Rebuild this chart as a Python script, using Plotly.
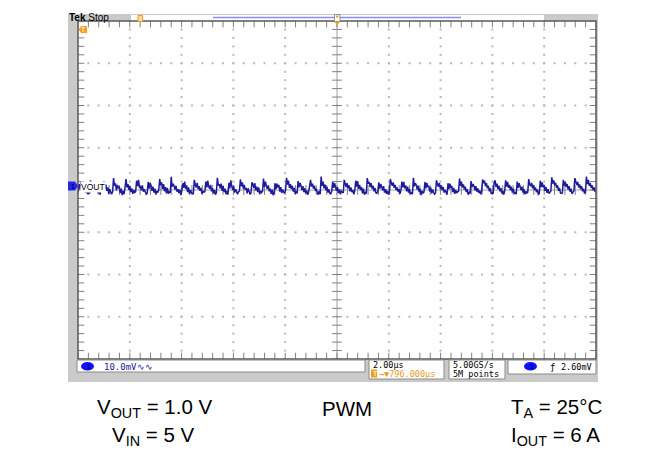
import plotly.graph_objects as go

# ---------------- data ----------------
# Output ripple, mV relative to the channel-1 reference (10 mV/div), one list per switching cycle
ripple_cycles_mv = [
    [-0.6, 1.4, 0.2, 1.9, 0.6, 1.2, -0.3, 0.9, -0.6, 0.4, -1.0, 0.1],
    [-0.9, 2.3, 0.7, 1.5, 1.0, 0.1, 1.1, -0.4, 0.5, -0.8, -0.1, -1.1],
    [0.2, 1.8, 0.4, 2.1, 0.3, 1.3, -0.2, 0.6, -0.9, 0.2, -0.5, -1.0],
    [-0.4, 2.8, 1.0, 1.6, -0.1, 1.2, 0.4, 0.8, -0.7, 0.3, -1.2, -0.2],
    [-1.0, 1.5, 2.6, 0.6, 1.4, 0.0, 0.9, -0.5, 0.4, -0.9, 0.0, -0.7],
    [-0.3, 2.2, 0.9, 2.4, 0.5, 1.0, -0.1, 1.1, -0.4, 0.2, -0.8, -1.0],
    [-0.8, 1.9, 0.3, 1.7, 1.1, -0.2, 0.8, -0.6, 0.3, -1.1, -0.2, -0.6],
    [0.0, 2.6, 1.2, 1.8, 0.2, 1.4, -0.3, 0.7, -0.8, 0.5, -0.9, -0.3],
    [-0.7, 3.1, 0.8, 1.5, 0.9, 0.1, 1.0, -0.4, 0.2, -0.7, 0.1, -1.2],
    [-0.2, 1.6, 0.5, 2.0, 0.3, 1.1, -0.5, 0.6, -1.0, 0.0, -0.6, -0.9],
    [-0.9, 2.4, 1.3, 0.6, 1.7, 0.2, 0.9, -0.2, 0.5, -0.9, -0.3, -0.5],
    [-0.4, 2.0, 0.6, 2.2, 0.8, 0.3, 1.2, -0.3, 0.4, -0.8, 0.0, -1.1],
    [-0.6, 2.9, 1.1, 1.4, 0.4, 1.5, -0.2, 0.9, -0.5, 0.3, -1.0, -0.2],
    [-1.1, 1.7, 0.4, 2.3, 0.9, 0.0, 1.0, -0.6, 0.2, -0.4, -1.0, -0.4],
    [-0.2, 2.5, 0.9, 1.8, 0.3, 1.2, 0.1, 0.5, -0.8, 0.4, -0.7, -1.0],
    [-0.7, 1.8, 1.4, 0.5, 1.6, -0.1, 0.8, -0.5, 0.6, -1.0, -0.2, -0.6],
    [-0.3, 2.7, 0.7, 2.0, 1.0, 0.2, 1.1, -0.3, 0.3, -0.9, 0.1, -1.2],
    [-0.9, 1.6, 0.2, 1.5, 0.6, 1.2, -0.4, 0.7, -0.7, 0.1, -0.5, -0.8],
    [-0.1, 2.9, 1.3, 2.2, 0.5, 1.4, 0.2, 1.0, -0.4, 0.5, -0.9, -0.3],
    [-0.8, 2.1, 0.6, 1.7, 1.1, 0.0, 0.9, -0.5, 0.4, -0.8, -0.1, -1.1],
    [-0.5, 1.7, 2.4, 0.8, 1.5, 0.3, 1.0, -0.2, 0.3, -0.6, -1.1, -0.2],
    [-1.0, 3.2, 1.0, 2.0, 0.4, 1.3, -0.1, 0.8, -0.6, 0.2, -0.8, -0.9],
    [-0.3, 1.9, 0.5, 1.6, 0.9, -0.2, 0.7, -0.7, 0.1, -1.0, -0.3, -0.6],
    [-0.7, 2.4, 1.2, 0.7, 1.6, 0.4, 1.1, -0.3, 0.6, -0.5, 0.0, -1.0],
    [-0.2, 2.2, 0.8, 2.1, 0.3, 1.2, 0.0, 0.7, -0.8, 0.3, -1.1, -0.4],
    [-0.9, 2.8, 1.5, 1.9, 0.7, 1.6, 0.3, 1.0, -0.3, 0.5, -0.7, -0.8],
    [-0.4, 1.8, 0.3, 1.4, 0.8, -0.1, 0.9, -0.6, 0.2, -0.9, -0.2, -1.1],
    [-0.8, 2.6, 1.7, 1.0, 1.8, 0.5, 1.2, 0.0, 0.6, -0.4, 0.2, -0.9],
    [-0.1, 2.0, 0.6, 1.9, 0.4, 1.1, -0.3, 0.8, -0.6, 0.2, -1.0, -0.5],
    [-1.0, 2.9, 0.9, 1.6, 1.2, 0.1, 1.0, -0.5, 0.3, -1.2, -0.2, -0.7],
    [-0.5, 1.9, 0.4, 1.7, 0.7, 1.0, -0.4, 0.6, -0.8, 0.1, -0.6, -1.0],
    [-0.7, 2.3, 1.4, 0.8, 1.7, 0.3, 1.1, -0.1, 0.7, -0.6, 0.0, -0.9],
    [-1.1, 1.6, 0.2, 1.5, 0.5, 0.9, -0.5, 0.5, -0.9, 0.0, -0.7, -0.4],
    [-0.3, 2.7, 1.0, 2.0, 0.6, 1.3, 0.1, 0.8, -0.5, 0.2, -1.1, -0.6],
    [-0.8, 2.1, 0.7, 1.4, 1.0, -0.1, 0.9, -0.4, 0.4, -0.7, -0.1, -1.0],
    [-0.4, 2.5, 1.6, 2.2, 0.9, 1.6, 0.4, 1.0, -0.3, 0.4, -0.9, -0.5],
    [-0.9, 1.8, 2.3, 0.7, 1.5, 0.2, 1.0, -0.3, 0.5, -0.8, -0.2, -1.1],
    [-0.2, 2.3, 0.8, 1.9, 0.5, 1.2, -0.1, 0.8, -0.6, 0.3, -0.9, -0.5],
    [-1.0, 2.0, 0.5, 1.6, 0.9, 0.0, 0.8, -0.6, 0.2, -1.0, -0.3, -0.7],
    [-0.5, 2.6, 1.3, 0.9, 1.7, 0.4, 1.2, 0.0, 0.6, -0.5, 0.1, -1.0],
    [-0.8, 2.2, 0.7, 1.8, 0.6, 1.2, -0.2, 0.7, -0.7, 0.2, -0.8, -0.4],
    [-0.3, 3.0, 1.5, 2.3, 1.1, 1.7, 0.5, 1.1, -0.2, 0.5, -0.7, -0.8],
    [-0.7, 2.4, 1.0, 2.0, 0.7, 1.4, 0.1, 0.9, -0.4, 0.3, -0.9, -0.5],
    [-0.2, 2.8, 1.7, 1.2, 1.9, 0.6, 1.3, 0.2, 0.9, -0.3, 0.3, -0.7],
    [-0.6, 3.2, 1.4, 2.4, 1.0, 1.6, 0.5, 1.1, 0.0, 0.6, -0.4, -0.1],
]

time_range_us = [-10.0, 10.0]      # 2.00 µs/div, 10 divisions
volt_range_mv = [-40.0, 40.0]      # 10.0 mV/div, 8 divisions

scope_status = {
    "ch1_scale": "10.0mV\u223f\u223f",
    "timebase": "2.00\u00b5s",
    "delay": "\u2192\u25bc796.000\u00b5s",
    "sample_rate": "5.00GS/s",
    "record": "5M points",
    "trigger_level": "2.60mV",
}
captions = {
    "vout": "V<sub>OUT</sub> = 1.0 V",
    "vin": "V<sub>IN</sub> = 5 V",
    "mode": "PWM",
    "ta": "T<sub>A</sub> = 25\u00b0C",
    "iout": "I<sub>OUT</sub> = 6 A",
}

# ---------------- geometry (screen pixels; page body has an 8 px margin) ----------------
PAGE_W, PAGE_H = 663, 467
BODY = 8
FIG_W, FIG_H = PAGE_W - BODY, PAGE_H - BODY
L, R, T, B = 78, 596, 21, 359   # plot area in screen pixels


def fx(px):
    return (px - L) / (R - L)


def fy(py):
    return (B - py) / (B - T)


vout_mv = [v for cyc in ripple_cycles_mv for v in cyc]
n = len(vout_mv)
t_us = [time_range_us[0] + (time_range_us[1] - time_range_us[0]) * i / (n - 1) for i in range(n)]

major_x = [time_range_us[0] + 2.0 * i for i in range(11)]
minor_x = [time_range_us[0] + 0.4 * i for i in range(51)]
major_y = [volt_range_mv[0] + 10.0 * i for i in range(9)]
minor_y = [volt_range_mv[0] + 2.0 * i for i in range(41)]

fig = go.Figure()

# grid dots
gx, gy = [], []
for xv in major_x[1:-1]:
    if abs(xv) < 1e-9:
        continue
    for yv in minor_y:
        gx.append(xv); gy.append(yv)
for yv in major_y[1:-1]:
    if abs(yv) < 1e-9:
        continue
    for xv in minor_x:
        gx.append(xv); gy.append(yv)
fig.add_trace(go.Scatter(x=gx, y=gy, mode="markers", hoverinfo="skip",
                         marker=dict(symbol="square", size=2, color="#b8b8b8", line=dict(width=0))))

# centre crosshair ticks
fig.add_trace(go.Scatter(x=[0.0] * len(minor_y), y=minor_y, mode="markers", hoverinfo="skip",
                         marker=dict(symbol="line-ew", size=7, line=dict(width=1, color="#808080"))))
fig.add_trace(go.Scatter(x=minor_x, y=[0.0] * len(minor_x), mode="markers", hoverinfo="skip",
                         marker=dict(symbol="line-ns", size=7, line=dict(width=1, color="#808080"))))
# edge ticks (half clipped by plot area)
fig.add_trace(go.Scatter(x=[time_range_us[0]] * len(minor_y) + [time_range_us[1]] * len(minor_y),
                         y=minor_y + minor_y, mode="markers", hoverinfo="skip",
                         marker=dict(symbol="line-ew", size=9, line=dict(width=1, color="#808080"))))
fig.add_trace(go.Scatter(x=minor_x + minor_x,
                         y=[volt_range_mv[0]] * len(minor_x) + [volt_range_mv[1]] * len(minor_x),
                         mode="markers", hoverinfo="skip",
                         marker=dict(symbol="line-ns", size=9, line=dict(width=1, color="#808080"))))

# waveform
fig.add_trace(go.Scatter(x=t_us, y=vout_mv, mode="lines", hoverinfo="skip",
                         line=dict(color="#1c1c9c", width=1.5)))

shapes = []
# gray scope frame
shapes.append(dict(type="rect", xref="paper", yref="paper", x0=fx(68), x1=fx(598), y0=fy(14), y1=fy(382),
                   fillcolor="#cacaca", line=dict(width=0), layer="below"))
# header white strip
shapes.append(dict(type="rect", xref="paper", yref="paper", x0=fx(131), x1=fx(544), y0=fy(15), y1=fy(21),
                   fillcolor="white", line=dict(width=0), layer="below"))
# plot area white
shapes.append(dict(type="rect", xref="paper", yref="paper", x0=0, x1=1, y0=0, y1=1,
                   fillcolor="white", line=dict(width=0), layer="below"))
# centre lines
shapes.append(dict(type="line", xref="x", yref="paper", x0=0, x1=0, y0=0, y1=1,
                   line=dict(color="#a0a0a0", width=1), layer="below"))
shapes.append(dict(type="line", xref="paper", yref="y", x0=0, x1=1, y0=0, y1=0,
                   line=dict(color="#a0a0a0", width=1), layer="below"))
# plot border
shapes.append(dict(type="rect", xref="paper", yref="paper", x0=0, x1=1, y0=0, y1=1,
                   line=dict(color="#5a5a5a", width=1.5)))
# header record bar
shapes.append(dict(type="line", xref="paper", yref="paper", x0=fx(213), x1=fx(461), y0=fy(17.5), y1=fy(17.5),
                   line=dict(color="#8c8cf0", width=1.5)))
shapes.append(dict(type="rect", xref="paper", yref="paper", x0=fx(334.5), x1=fx(340), y0=fy(14.5), y1=fy(21.5),
                   fillcolor="white", line=dict(color="#909090", width=1)))
shapes.append(dict(type="rect", xref="paper", yref="paper", x0=fx(336), x1=fx(338.5), y0=fy(15.5), y1=fy(17.5),
                   fillcolor="#f0a020", line=dict(width=0)))
# header trigger marker
shapes.append(dict(type="rect", xref="paper", yref="paper", x0=fx(138), x1=fx(142.5), y0=fy(15.5), y1=fy(21.5),
                   fillcolor="#fbd9a0", line=dict(color="#f0a020", width=1)))
# trigger position triangle at top of graticule
shapes.append(dict(type="path", xref="paper", yref="paper",
                   path=f"M {fx(334)} {fy(21.5)} L {fx(340.5)} {fy(21.5)} L {fx(337.2)} {fy(25)} Z",
                   fillcolor="#f0a020", line=dict(width=0)))
# trigger level marker (left top)
shapes.append(dict(type="path", xref="paper", yref="paper",
                   path=(f"M {fx(78.5)} {fy(29.5)} L {fx(81)} {fy(26)} L {fx(87)} {fy(26)} "
                         f"L {fx(87)} {fy(33)} L {fx(81)} {fy(33)} Z"),
                   fillcolor="#f0a020", line=dict(width=0)))
# channel 1 ground marker
shapes.append(dict(type="path", xref="paper", yref="paper",
                   path=(f"M {fx(68)} {fy(181.5)} L {fx(75)} {fy(181.5)} L {fx(78)} {fy(186)} "
                         f"L {fx(75)} {fy(190.5)} L {fx(68)} {fy(190.5)} Z"),
                   fillcolor="#2424f0", line=dict(width=0)))
# status boxes
for x0, x1, y0, y1 in [(77, 365, 360, 372), (369, 444, 360, 379), (449, 505, 360, 379), (508, 596, 360, 374)]:
    shapes.append(dict(type="rect", xref="paper", yref="paper", x0=fx(x0), x1=fx(x1), y0=fy(y0), y1=fy(y1),
                       fillcolor="white", line=dict(color="#8a8a8a", width=1)))
# blue channel ovals
for x0, x1, y0, y1 in [(81, 94, 362, 370.5), (524, 537, 362, 370.5)]:
    shapes.append(dict(type="circle", xref="paper", yref="paper", x0=fx(x0), x1=fx(x1), y0=fy(y0), y1=fy(y1),
                       fillcolor="#1010ff", line=dict(width=0)))
# delay "T" icon
shapes.append(dict(type="rect", xref="paper", yref="paper", x0=fx(371), x1=fx(377), y0=fy(369.5), y1=fy(377.5),
                   fillcolor="#f0a020", line=dict(width=0)))

mono = "DejaVu Sans Mono"
ann = []


def text(px, py, s, size=9, color="black", xanchor="left", family=mono, bg=None):
    d = dict(xref="paper", yref="paper", x=fx(px), y=fy(py), text=s, showarrow=False,
             xanchor=xanchor, yanchor="middle", font=dict(family=family, size=size, color=color),
             borderpad=0)
    if bg:
        d["bgcolor"] = bg
    ann.append(d)


text(68, 17.5, "<b>Tek</b> Stop", size=10, family="Liberation Sans")
text(80, 29.6, "T", size=7, color="white", family="Liberation Sans")
text(70, 186.3, "1", size=7.5, color="black", family="Liberation Sans")
text(80, 186.5, "VOUT", size=8.5, family="Liberation Sans", bg="white")
text(85.5, 366.5, "1", size=7, color="black", family="Liberation Sans")
text(103, 366.5, scope_status["ch1_scale"], size=9, color="#1a1a9a")
text(372, 365, scope_status["timebase"], size=8.5)
text(372.3, 373.6, "T", size=7, color="white", family="Liberation Sans")
text(378, 374, scope_status["delay"], size=8.5, color="#e89a20")
text(452, 365, scope_status["sample_rate"], size=8.5)
text(452, 374, scope_status["record"], size=8.5)
text(528.5, 366.5, "1", size=7, color="black", family="Liberation Sans")
text(549, 366.5, "\u0192", size=9)
text(593, 366.5, scope_status["trigger_level"], size=8.5, xanchor="right")

cap_font = "Liberation Sans"
cap_size = 20.5
text(155, 408, captions["vout"], size=cap_size, family=cap_font, xanchor="center")
text(153, 436, captions["vin"], size=cap_size, family=cap_font, xanchor="center")
text(347, 408, captions["mode"], size=cap_size, family=cap_font, xanchor="center")
text(510, 408, captions["ta"], size=cap_size, family=cap_font, xanchor="left")
text(510, 436, captions["iout"], size=cap_size, family=cap_font, xanchor="left")

fig.update_layout(
    width=FIG_W, height=FIG_H,
    margin=dict(l=L - BODY, r=PAGE_W - R, t=T - BODY, b=PAGE_H - B, pad=0),
    paper_bgcolor="white", plot_bgcolor="white",
    showlegend=False,
    shapes=shapes, annotations=ann,
    xaxis=dict(range=time_range_us, showgrid=False, zeroline=False, showticklabels=False,
               ticks="", showline=False, fixedrange=True),
    yaxis=dict(range=volt_range_mv, showgrid=False, zeroline=False, showticklabels=False,
               ticks="", showline=False, fixedrange=True),
)

fig.write_html("out.html")
